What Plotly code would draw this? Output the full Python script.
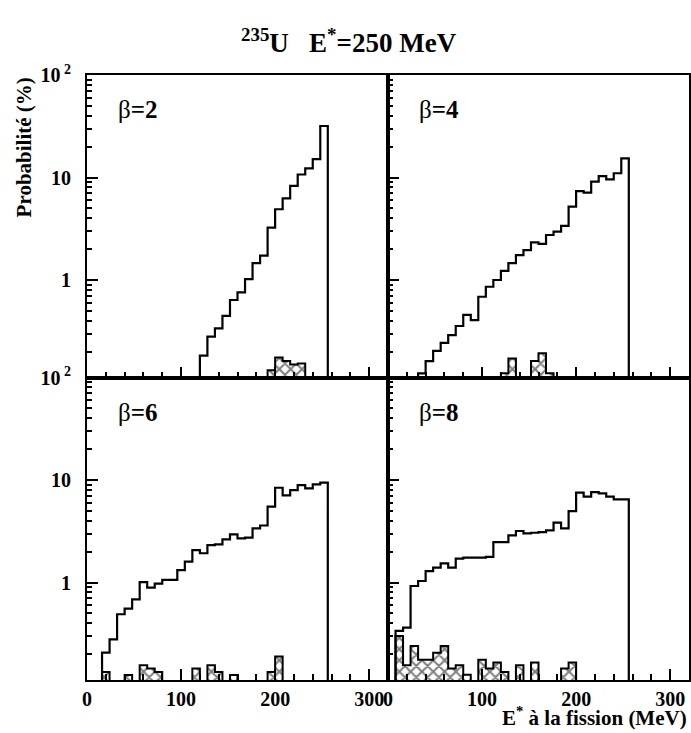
import numpy as np
import plotly.graph_objects as go
from plotly.subplots import make_subplots

BIN = 8  # MeV bin width

# ---- data (Probabilité %, per 8 MeV bin; first bin lower edge given) ----
b2_start = 120
b2_total = [0.183, 0.28, 0.338, 0.446, 0.638, 0.759, 1.02, 1.46, 1.73, 3.24,
            4.9, 6.27, 8.3, 10.7, 12.3, 15.1, 31.8]
b2_hatch_start = 192
b2_hatch = [0.132, 0.175, 0.162, 0.15, 0.153]

b4_start = 32
b4_total = [0.123, 0.162, 0.204, 0.244, 0.29, 0.356, 0.456, 0.407, 0.687, 0.86,
            1.0, 1.23, 1.46, 1.75, 1.96, 2.33, 2.25, 2.75, 2.96, 3.37,
            5.19, 7.38, 7.11, 9.1, 10.3, 9.6, 11.0, 15.4]
b4_hatch_start = 120
b4_hatch = [0.123, 0.172, 0, 0, 0.162, 0.193, 0.123]

b6_start = 16
b6_total = [0.207, 0.279, 0.49, 0.556, 0.685, 1.01, 0.89, 0.975, 1.06, 1.06,
            1.32, 1.6, 2.07, 1.93, 2.32, 2.36, 2.64, 2.95, 2.7, 2.74,
            3.37, 3.6, 5.5, 8.4, 7.08, 7.98, 8.9, 8.28, 9.06, 9.42]
b6_hatch_start = 16
b6_hatch = [0.134, 0, 0, 0.125, 0, 0.156, 0.145, 0.134, 0, 0,
            0, 0, 0.145, 0, 0.156, 0.134, 0, 0.125, 0, 0,
            0, 0, 0.134, 0.19]

b8_start = 8
b8_total = [0.337, 0.363, 0.925, 1.035, 1.29, 1.4, 1.54, 1.4, 1.71, 1.75,
            1.75, 1.75, 1.78, 2.48, 2.48, 2.88, 3.18, 3.02, 3.06, 3.1,
            3.23, 3.84, 3.37, 4.98, 7.52, 6.88, 7.63, 7.39, 6.88, 6.47,
            6.47]
b8_hatch_start = 8
b8_hatch = [0.301, 0.156, 0.24, 0.176, 0.176, 0.207, 0.24, 0.145, 0.156, 0.126,
            0, 0.176, 0.145, 0.166, 0.134, 0, 0.156, 0, 0.166, 0,
            0, 0, 0.145, 0.166]

panel_labels = ["2", "4", "6", "8"]
x_ticks = [0, 100, 200, 300]
y_ticks = [1, 10, 100]
y_ticktext = ["1", "10", "10<sup>\u00a02</sup>"]

FLOOR = 0.01  # below visible range -> histogram outline drops off the axis

panels = [
    (1, 1, b2_start, b2_total, b2_hatch_start, b2_hatch, panel_labels[0]),
    (1, 2, b4_start, b4_total, b4_hatch_start, b4_hatch, panel_labels[1]),
    (2, 1, b6_start, b6_total, b6_hatch_start, b6_hatch, panel_labels[2]),
    (2, 2, b8_start, b8_total, b8_hatch_start, b8_hatch, panel_labels[3]),
]


def step_xy(start, vals):
    vals = np.asarray(vals, dtype=float)
    edges = start + BIN * np.arange(len(vals) + 1)
    v = np.where(vals > 0, vals, FLOOR)
    x = np.concatenate([[edges[0]], edges, [edges[-1]]])
    y = np.concatenate([[FLOOR], v, [v[-1]], [FLOOR]])
    return x, y


FONT = "Liberation Serif"

fig = make_subplots(rows=2, cols=2, horizontal_spacing=0, vertical_spacing=0)

for r, c, s, tot, hs, hv, lab in panels:
    hvals = np.asarray(hv, dtype=float)
    centers = hs + BIN * (np.arange(len(hvals)) + 0.5)
    mask = hvals > 0
    fig.add_trace(go.Bar(
        x=centers[mask], y=hvals[mask], width=BIN,
        marker=dict(color="white", line=dict(width=0),
                    pattern=dict(shape="x", fgcolor="black", bgcolor="white",
                                 size=8, solidity=0.45)),
        showlegend=False, hoverinfo="skip"), row=r, col=c)
    xh, yh = step_xy(hs, hv)
    fig.add_trace(go.Scatter(x=xh, y=yh, mode="lines", line_shape="hv",
                             line=dict(color="black", width=2),
                             showlegend=False, hoverinfo="skip"), row=r, col=c)
    xt, yt = step_xy(s, tot)
    fig.add_trace(go.Scatter(x=xt, y=yt, mode="lines", line_shape="hv",
                             line=dict(color="black", width=2.2),
                             showlegend=False, hoverinfo="skip"), row=r, col=c)

minor_x = [v for v in range(20, 320, 20) if v % 100 != 0]
minor_y = [m * 10.0 ** e for e in (-1, 0, 1) for m in range(2, 10)]

for r in (1, 2):
    for c in (1, 2):
        fig.update_xaxes(
            row=r, col=c, range=[0, 320], tickvals=x_ticks, automargin=False,
            ticks="inside", ticklen=11, tickwidth=2, tickcolor="black",
            showline=True, linewidth=2, linecolor="black", mirror=True,
            showgrid=False, zeroline=False, showticklabels=(r == 2),
            tickfont=dict(family=FONT, size=20, color="black", weight="bold"),
            minor=dict(tickvals=minor_x, ticks="inside", ticklen=6,
                       tickwidth=1.5, tickcolor="black", showgrid=False))
        fig.update_yaxes(
            row=r, col=c, type="log", range=[-0.951, 2], tickvals=y_ticks,
            ticktext=y_ticktext, automargin=False,
            ticks="inside", ticklen=11, tickwidth=2, tickcolor="black",
            showline=True, linewidth=2, linecolor="black", mirror=True,
            showgrid=False, zeroline=False, showticklabels=(c == 1),
            ticklabelstandoff=10,
            tickfont=dict(family=FONT, size=20, color="black", weight="bold"),
            minor=dict(tickvals=minor_y, ticks="inside", ticklen=5,
                       tickwidth=1.5, tickcolor="black", showgrid=False))

annotations = []
for i, (r, c, s, tot, hs, hv, lab) in enumerate(panels):
    idx = "" if i == 0 else str(i + 1)
    annotations.append(dict(
        text="\u03b2<b>=" + lab + "</b>", xref=f"x{idx} domain", yref=f"y{idx} domain",
        x=0.098, y=0.885, xanchor="left", yanchor="middle", showarrow=False,
        font=dict(family=FONT, size=25, color="black")))

annotations.append(dict(
    text="<sup>235</sup>U\u00a0\u00a0\u00a0E<sup>*</sup>=250 MeV", xref="paper", yref="paper",
    x=0.435, y=1.057, xanchor="center", yanchor="middle", showarrow=False,
    font=dict(family=FONT, size=27, color="black", weight="bold")))
annotations.append(dict(
    text="Probabilité (%)", xref="paper", yref="paper", x=-0.104, y=1.0,
    xanchor="center", yanchor="top", textangle=-90, showarrow=False,
    font=dict(family=FONT, size=21, color="black", weight="bold")))
annotations.append(dict(
    text="E<sup>*</sup> à la fission (MeV)", xref="paper", yref="paper", x=1.0,
    y=-0.06, xanchor="right", yanchor="middle", showarrow=False,
    font=dict(family=FONT, size=21, color="black", weight="bold")))

fig.update_layout(
    width=691, height=733, margin=dict(l=87, r=2, t=75, b=53, autoexpand=False),
    paper_bgcolor="white", plot_bgcolor="white", bargap=0,
    font=dict(family=FONT, size=20, color="black"),
    annotations=annotations)

fig.write_html("out.html", config={"displayModeBar": False},
               post_script="document.body.style.margin='0';"
                           "document.body.style.overflow='hidden';")
